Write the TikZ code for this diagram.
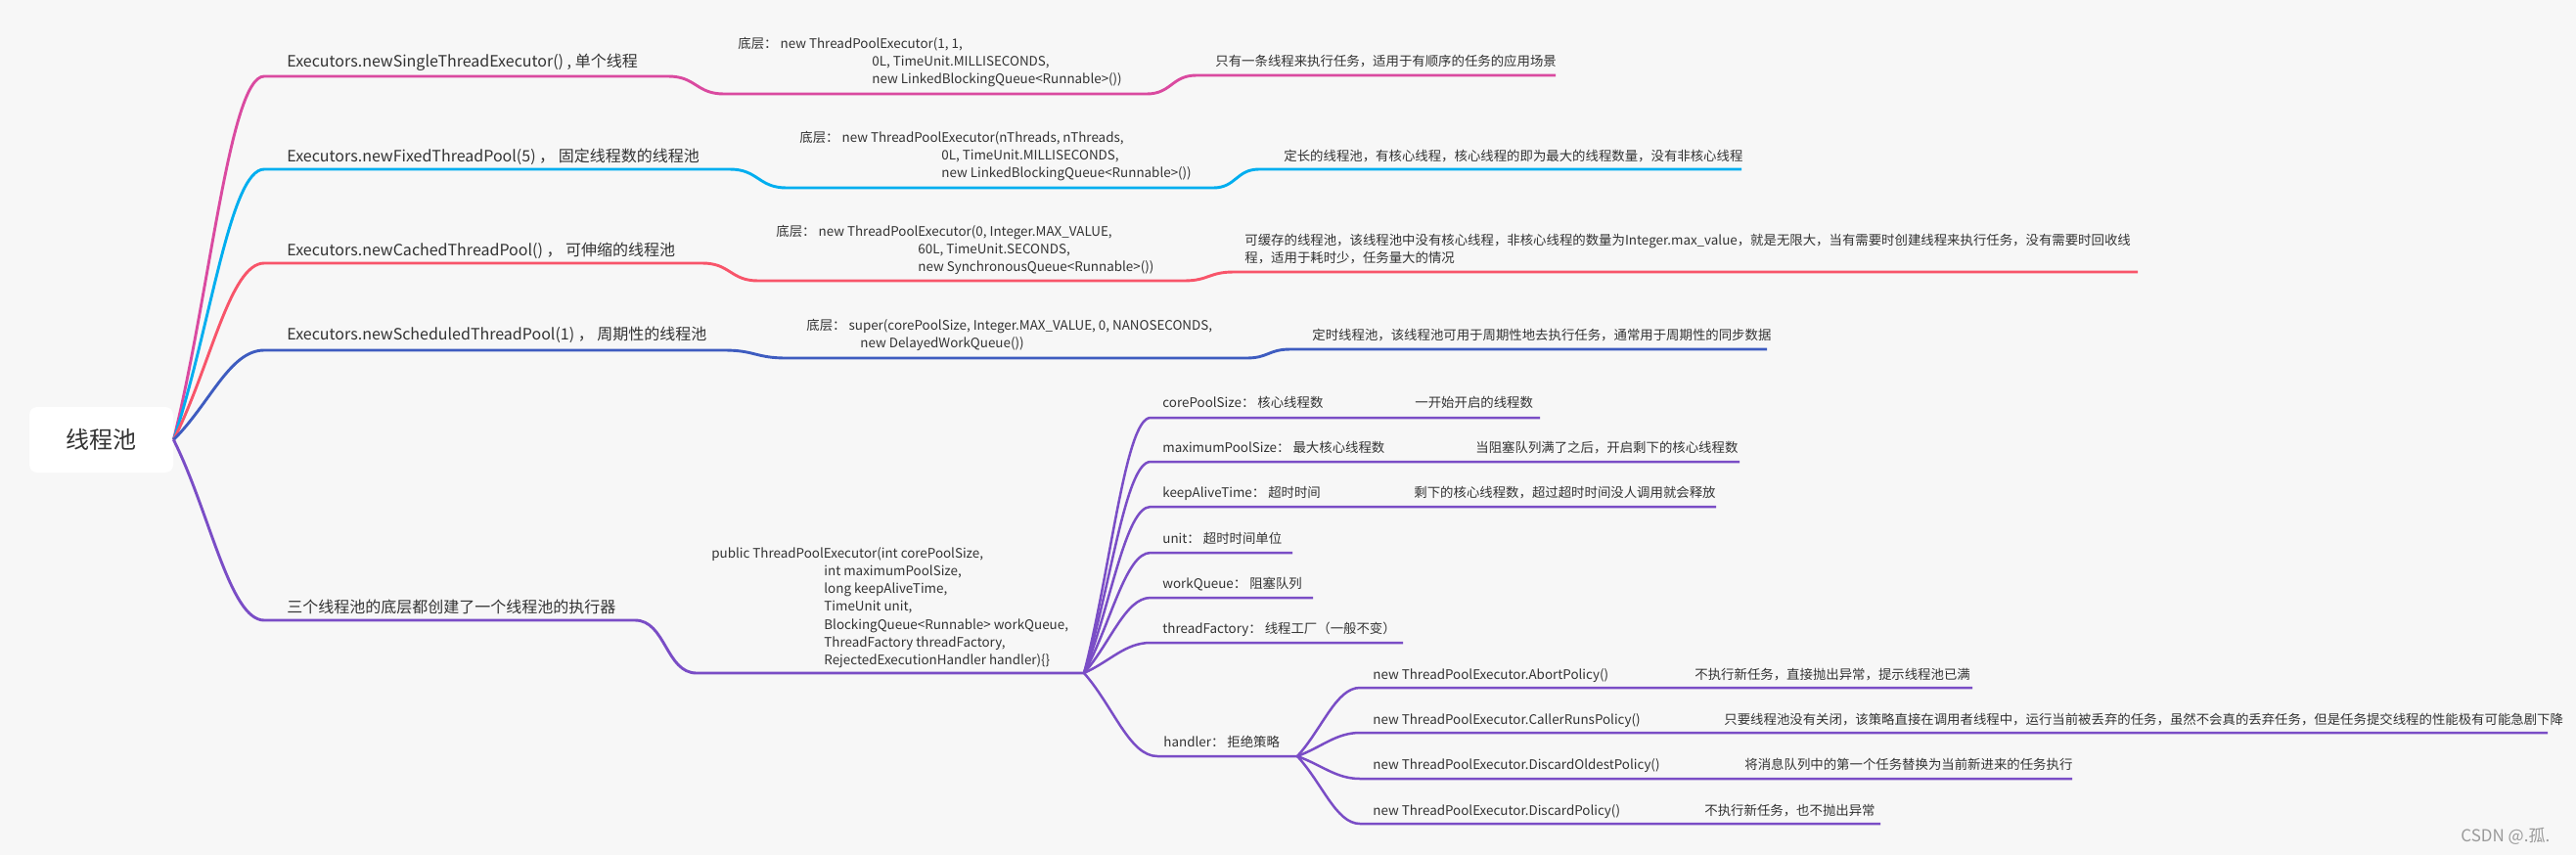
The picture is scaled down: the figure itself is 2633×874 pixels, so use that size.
\documentclass[tikz,border=0pt]{standalone}
\usepackage{fontspec}
\setmainfont{Noto Sans CJK SC}
\usetikzlibrary{calc}
\definecolor{bg}{HTML}{F7F7F7}
\definecolor{txt}{HTML}{333333}
\definecolor{cpink}{HTML}{DA4AA0}
\definecolor{ccyan}{HTML}{00AEEF}
\definecolor{cred}{HTML}{F8556A}
\definecolor{cblue}{HTML}{3E5CC0}
\definecolor{cpurple}{HTML}{7A4DC6}
\definecolor{wmark}{HTML}{9A9A9A}
\begin{document}
\begin{tikzpicture}[x=0.5pt,y=-0.5pt,
  t1/.style={inner sep=0pt, anchor=west, text=txt, font=\fontsize{8}{9.6}\selectfont, text height=7.2pt, text depth=1.44pt},
  t2/.style={inner sep=0pt, anchor=west, text=txt, font=\fontsize{6.7}{8}\selectfont, text height=6pt, text depth=1.2pt},
  ln/.style={line width=1.45pt, line join=round},
  ln2/.style={line width=1.25pt, line join=round},
  brc/.style={to path={.. controls ($(\tikztostart)!0.4!(\tikztotarget)$) and ($(\tikztotarget)!0.38!(\tikztostart|-\tikztotarget)$) .. (\tikztotarget)}},
  sc/.style={to path={.. controls ($(\tikztostart)!0.5!(\tikztotarget|-\tikztostart)$) and ($(\tikztotarget)!0.5!(\tikztostart|-\tikztotarget)$) .. (\tikztotarget)}},
]
\useasboundingbox (0,0) rectangle (2633,874);
\fill[bg] (0,0) rectangle (2633,874);

% root
\node[fill=white, rounded corners=4pt, minimum width=73.5pt, minimum height=33.5pt, inner sep=0pt,
      font=\fontsize{12}{14}\selectfont, text=txt] (root) at (103.5,449.5) {线程池};

% coordinates
\coordinate (p1) at (270,78);  \coordinate (p2) at (683,78);  \coordinate (p3) at (740,96);
\coordinate (p4) at (1172,96); \coordinate (p5) at (1223,77); \coordinate (p6) at (1590,77);
\coordinate (c1) at (270,173); \coordinate (c2) at (746,173); \coordinate (c3) at (804,192);
\coordinate (c4) at (1240,192);\coordinate (c5) at (1287,173);\coordinate (c6) at (1780,173);
\coordinate (r1) at (270,269); \coordinate (r2) at (718,269); \coordinate (r3) at (775,287);
\coordinate (r4) at (1210,287);\coordinate (r5) at (1261,278);\coordinate (r6) at (2185,278);
\coordinate (b1) at (270,358); \coordinate (b2) at (740,358); \coordinate (b3) at (804,366);
\coordinate (b4) at (1274,366);\coordinate (b5) at (1319,357);\coordinate (b6) at (1806,357);
\coordinate (u1) at (270,634); \coordinate (u2) at (649,634); \coordinate (u3) at (712,688);
\coordinate (J) at (1108,688);
\coordinate (k1s) at (1176,427); \coordinate (k1e) at (1574,427);
\coordinate (k2s) at (1176,472); \coordinate (k2e) at (1778,472);
\coordinate (k3s) at (1176,518); \coordinate (k3e) at (1754,518);
\coordinate (k4s) at (1176,565); \coordinate (k4e) at (1321,565);
\coordinate (k5s) at (1176,611); \coordinate (k5e) at (1342,611);
\coordinate (k6s) at (1176,657); \coordinate (k6e) at (1434,657);
\coordinate (hs) at (1183,773);  \coordinate (H) at (1326,773);
\coordinate (a1s) at (1390,703); \coordinate (a1e) at (2016,703);
\coordinate (a2s) at (1390,749); \coordinate (a2e) at (2604,749);
\coordinate (a3s) at (1390,796); \coordinate (a3e) at (2118,796);
\coordinate (a4s) at (1390,842); \coordinate (a4e) at (1922,842);

% connectors
\draw[ln, cpink] (root.east) to[brc] (p1) -- (p2) to[sc] (p3) -- (p4) to[sc] (p5) -- (p6);
\draw[ln, ccyan] (root.east) to[brc] (c1) -- (c2) to[sc] (c3) -- (c4) to[sc] (c5) -- (c6);
\draw[ln, cred] (root.east) to[brc] (r1) -- (r2) to[sc] (r3) -- (r4) to[sc] (r5) -- (r6);
\draw[ln, cblue] (root.east) to[brc] (b1) -- (b2) to[sc] (b3) -- (b4) to[sc] (b5) -- (b6);
\draw[ln, cpurple] (root.east) to[brc] (u1) -- (u2) to[sc] (u3) -- (J);
\foreach \k in {1,...,6}{
  \draw[ln2, cpurple] (J) to[brc] (k\k s) -- (k\k e);
}
\draw[ln2, cpurple] (J) to[brc] (hs) -- (H);
\foreach \k in {1,...,4}{
  \draw[ln2, cpurple] (H) to[brc] (a\k s) -- (a\k e);
}

% level 1 texts
\node[t1] (n1) at (293,63) {Executors.newSingleThreadExecutor() , 单个线程};
\node[t1] (n2) at (293,160) {Executors.newFixedThreadPool(5) ， 固定线程数的线程池};
\node[t1] (n3) at (293,256) {Executors.newCachedThreadPool() ， 可伸缩的线程池};
\node[t1] (n4) at (293,342) {Executors.newScheduledThreadPool(1) ， 周期性的线程池};
\node[t1] (n5) at (293,621) {三个线程池的底层都创建了一个线程池的执行器};

% code texts
\node[t2] (q1a) at (754,45) {底层： new ThreadPoolExecutor(1, 1,};
\node[t2] (q1b) at (891,63) {0L, TimeUnit.MILLISECONDS,};
\node[t2] (q1c) at (891,81) {new LinkedBlockingQueue<Runnable>())};
\node[t2] (q2a) at (817,141) {底层： new ThreadPoolExecutor(nThreads, nThreads,};
\node[t2] (q2b) at (962,159) {0L, TimeUnit.MILLISECONDS,};
\node[t2] (q2c) at (962,177) {new LinkedBlockingQueue<Runnable>())};
\node[t2] (q3a) at (793,237) {底层： new ThreadPoolExecutor(0, Integer.MAX\_VALUE,};
\node[t2] (q3b) at (938,255) {60L, TimeUnit.SECONDS,};
\node[t2] (q3c) at (938,273) {new SynchronousQueue<Runnable>())};
\node[t2] (q4a) at (824,333) {底层： super(corePoolSize, Integer.MAX\_VALUE, 0, NANOSECONDS,};
\node[t2] (q4b) at (879,351) {new DelayedWorkQueue())};
\node[t2] (q5a) at (727,566) {public ThreadPoolExecutor(int corePoolSize,};
\node[t2] (q5b) at (842,584) {int maximumPoolSize,};
\node[t2] (q5c) at (842,602) {long keepAliveTime,};
\node[t2] (q5d) at (842,620) {TimeUnit unit,};
\node[t2] (q5e) at (842,639) {BlockingQueue<Runnable> workQueue,};
\node[t2] (q5f) at (842,657) {ThreadFactory threadFactory,};
\node[t2] (q5g) at (842,675) {RejectedExecutionHandler handler)\{\}};

% descriptions
\node[t2] (d1) at (1242,63) {只有一条线程来执行任务，适用于有顺序的任务的应用场景};
\node[t2] (d2) at (1312,160) {定长的线程池，有核心线程，核心线程的即为最大的线程数量，没有非核心线程};
\node[t2] (d3a) at (1272,246) {可缓存的线程池，该线程池中没有核心线程，非核心线程的数量为Integer.max\_value，就是无限大，当有需要时创建线程来执行任务，没有需要时回收线};
\node[t2] (d3b) at (1272,264) {程，适用于耗时少，任务量大的情况};
\node[t2] (d4) at (1341,343) {定时线程池，该线程池可用于周期性地去执行任务，通常用于周期性的同步数据};

% parameters
\node[t2] (e1) at (1188,412) {corePoolSize： 核心线程数};
\node[t2] (f1) at (1446,412) {一开始开启的线程数};
\node[t2] (e2) at (1188,458) {maximumPoolSize： 最大核心线程数};
\node[t2] (f2) at (1508,458) {当阻塞队列满了之后，开启剩下的核心线程数};
\node[t2] (e3) at (1188,504) {keepAliveTime： 超时时间};
\node[t2] (f3) at (1445,504) {剩下的核心线程数，超过超时时间没人调用就会释放};
\node[t2] (e4) at (1188,551) {unit： 超时时间单位};
\node[t2] (e5) at (1188,597) {workQueue： 阻塞队列};
\node[t2] (e6) at (1188,643) {threadFactory： 线程工厂（一般不变）};
\node[t2] (e7) at (1189,759) {handler： 拒绝策略};

% policies
\node[t2] (g1) at (1403,690) {new ThreadPoolExecutor.AbortPolicy()};
\node[t2] (h1) at (1732,690) {不执行新任务，直接抛出异常，提示线程池已满};
\node[t2] (g2) at (1403,736) {new ThreadPoolExecutor.CallerRunsPolicy()};
\node[t2] (h2) at (1762,736) {只要线程池没有关闭，该策略直接在调用者线程中，运行当前被丢弃的任务，虽然不会真的丢弃任务，但是任务提交线程的性能极有可能急剧下降};
\node[t2] (g3) at (1403,782) {new ThreadPoolExecutor.DiscardOldestPolicy()};
\node[t2] (h3) at (1783,782) {将消息队列中的第一个任务替换为当前新进来的任务执行};
\node[t2] (g4) at (1403,829) {new ThreadPoolExecutor.DiscardPolicy()};
\node[t2] (h4) at (1742,829) {不执行新任务，也不抛出异常};

% watermark
\node[inner sep=0pt, anchor=west, text=wmark, font=\fontsize{8.5}{10}\selectfont] (wm) at (2515,855) {CSDN @.孤.};
\end{tikzpicture}
\end{document}
